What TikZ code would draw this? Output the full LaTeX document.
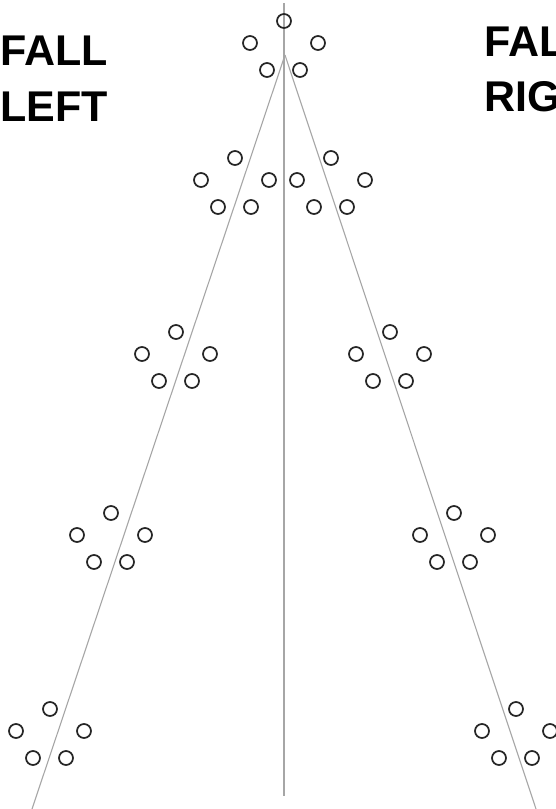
\documentclass[tikz,border=0pt]{standalone}
\usepackage{fontspec}
\setmainfont{Liberation Sans}
\begin{document}
\begin{tikzpicture}[x=1pt,y=-1pt,
  guide/.style={draw=black!35, line width=1.1pt},
  pin/.style={circle, draw=black!85, line width=1.7pt, minimum size=14pt, inner sep=0pt},
  lbl/.style={font=\fontsize{43}{56}\selectfont\bfseries, inner sep=0pt, anchor=base west}]
\clip (0,0) rectangle (556,809);
\fill[white] (0,0) rectangle (556,809);
% guide lines
\coordinate (apex) at (285,55);
\coordinate (vtop) at (284,3);
\coordinate (vbot) at (284,796);
\coordinate (lbot) at (32,809);
\coordinate (rbot) at (536,809);
\draw[guide] (vtop) -- (vbot);
\draw[guide] (apex) -- (lbot);
\draw[guide] (apex) -- (rbot);
% pin groups
\newcommand{\pingroup}[3]{%
  \node[pin] (#1t)  at (#2,#3) {};
  \node[pin] (#1l)  at (#2-34,#3+22) {};
  \node[pin] (#1r)  at (#2+34,#3+22) {};
  \node[pin] (#1bl) at (#2-17,#3+49) {};
  \node[pin] (#1br) at (#2+16,#3+49) {};}
\pingroup{g0}{284}{21}
\pingroup{l1}{235}{158}
\pingroup{r1}{331}{158}
\pingroup{l2}{176}{332}
\pingroup{r2}{390}{332}
\pingroup{l3}{111}{513}
\pingroup{r3}{454}{513}
\pingroup{l4}{50}{709}
\pingroup{r4}{516}{709}
% labels
\node[lbl] (left1) at (0,65) {FALL};
\node[lbl] (left2) at (0,121) {LEFT};
\node[lbl] (right1) at (484,56) {FALL};
\node[lbl] (right2) at (484,111) {RIGHT};
\end{tikzpicture}
\end{document}
